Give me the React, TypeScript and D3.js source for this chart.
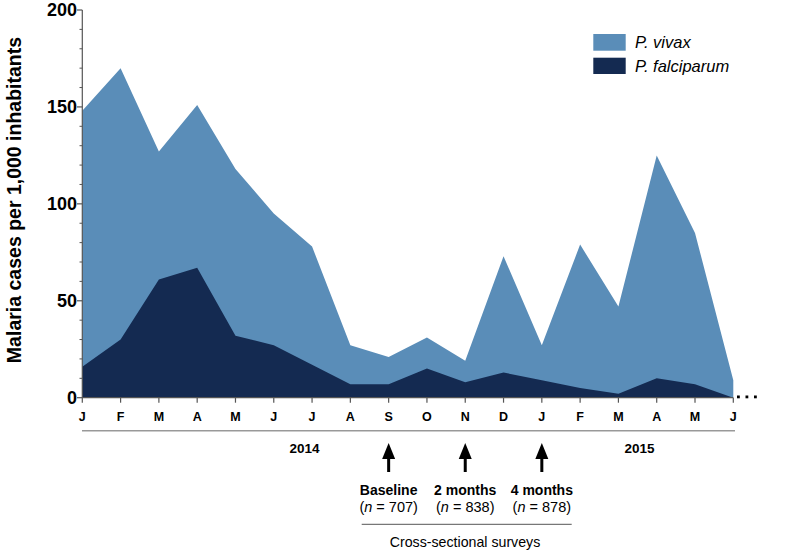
import React from "react";
import * as d3 from "d3";

const months = ["J","F","M","A","M","J","J","A","S","O","N","D","J","F","M","A","M","J"];
const falciparum = [16,30,61,67,32,27,17,7,7,15,8,13,9,5,2,10,7,0];
const vivax = [132,140,66,84,86,68,61,20,14,16,11,60,18,74,45,115,78,9];
const yTicks = [0,50,100,150,200];
const surveys = [
  { idx: 8, title: "Baseline", n: "707" },
  { idx: 10, title: "2 months", n: "838" },
  { idx: 12, title: "4 months", n: "878" },
];
const years = [{ label: "2014", pos: 5.8 }, { label: "2015", pos: 14.55 }];

const LIGHT = "#5a8db8";
const DARK = "#142a51";
const FONT = "'Liberation Sans', Arial, Helvetica, sans-serif";

export default function App() {
  const x = d3.scaleLinear().domain([0, months.length - 1]).range([82.3, 733.3]);
  const y = d3.scaleLinear().domain([0, 200]).range([397.7, 10]);

  const rows = months.map((_, i) => ({ i, falciparum: falciparum[i], vivax: vivax[i] }));
  const stack = d3.stack<any>().keys(["falciparum", "vivax"]);
  const series = stack(rows);
  const area = d3.area<any>()
    .x((d: any) => x(d.data.i))
    .y0((d: any) => y(d[0]))
    .y1((d: any) => y(d[1]));
  const totalArea = d3.area<any>()
    .x((d: any) => x(d.data.i))
    .y0(() => y(0))
    .y1((d: any) => y(d[1]));

  const minor = d3.range(0, 201, 10).filter((v) => v % 50 !== 0);
  const y0 = y(0);

  return (
    <svg width={800} height={552} style={{ position: "absolute", left: 0, top: 0, background: "#fff" }} fontFamily={FONT}>
      <path d={totalArea(series[1] as any) || ""} fill={LIGHT} />
      <path d={area(series[0] as any) || ""} fill={DARK} />

      {/* y axis */}
      <line x1={82.3} x2={82.3} y1={y(200)} y2={y0} stroke="#555" strokeWidth={1.2} />
      {yTicks.map((t) => (
        <g key={t}>
          <line x1={77} x2={82.3} y1={y(t)} y2={y(t)} stroke="#555" strokeWidth={1.2} />
          <text x={77} y={y(t) + 6.2} textAnchor="end" fontSize={18} fontWeight="bold" fill="#000">{t}</text>
        </g>
      ))}
      {minor.map((t) => (
        <line key={t} x1={79.5} x2={82.3} y1={y(t)} y2={y(t)} stroke="#555" strokeWidth={1} />
      ))}
      <text transform="translate(21,200) rotate(-90)" textAnchor="middle" fontSize={19.5} fontWeight="bold" fill="#000">
        Malaria cases per 1,000 inhabitants
      </text>

      {/* x axis */}
      <line x1={82.3} x2={733.3} y1={y0} y2={y0} stroke="#555" strokeWidth={1.2} />
      {months.map((m, i) => (
        <g key={i}>
          <line x1={x(i)} x2={x(i)} y1={y0} y2={y0 + 5} stroke="#555" strokeWidth={1.2} />
          <text x={x(i)} y={420.5} textAnchor="middle" fontSize={12.5} fontWeight="bold" fill="#000">{m}</text>
        </g>
      ))}
      {[0, 1, 2].map((k) => (
        <rect key={k} x={737 + k * 8.5} y={395.5} width={2.8} height={2.8} fill="#000" />
      ))}
      <line x1={82} x2={735} y1={430.7} y2={430.7} stroke="#999" strokeWidth={1.5} />
      {years.map((yr) => (
        <text key={yr.label} x={x(yr.pos)} y={453} textAnchor="middle" fontSize={13.5} fontWeight="bold" fill="#000">{yr.label}</text>
      ))}

      {/* surveys */}
      {surveys.map((s) => {
        const cx = x(s.idx);
        return (
          <g key={s.idx}>
            <rect x={cx - 1.5} y={455} width={3} height={17} fill="#000" />
            <path d={`M${cx},443 L${cx - 6.5},459 L${cx + 6.5},459 Z`} fill="#000" />
            <text x={cx} y={494.5} textAnchor="middle" fontSize={14} fontWeight="bold" fill="#000">{s.title}</text>
            <text x={cx} y={512} textAnchor="middle" fontSize={14.5} fill="#000">
              (<tspan fontStyle="italic">n</tspan> = {s.n})
            </text>
          </g>
        );
      })}
      <line x1={361.7} x2={571.7} y1={524.3} y2={524.3} stroke="#555" strokeWidth={1} />
      <text x={465} y={547} textAnchor="middle" fontSize={14.2} fill="#000">Cross-sectional surveys</text>

      {/* legend */}
      <rect x={593.3} y={34} width={32.4} height={16.7} fill={LIGHT} />
      <rect x={593.3} y={57.7} width={32.4} height={16.3} fill={DARK} />
      <text x={635} y={48.3} fontSize={16.5} fontStyle="italic" fill="#000">P. vivax</text>
      <text x={635} y={72} fontSize={16.5} fontStyle="italic" fill="#000">P. falciparum</text>
    </svg>
  );
}
